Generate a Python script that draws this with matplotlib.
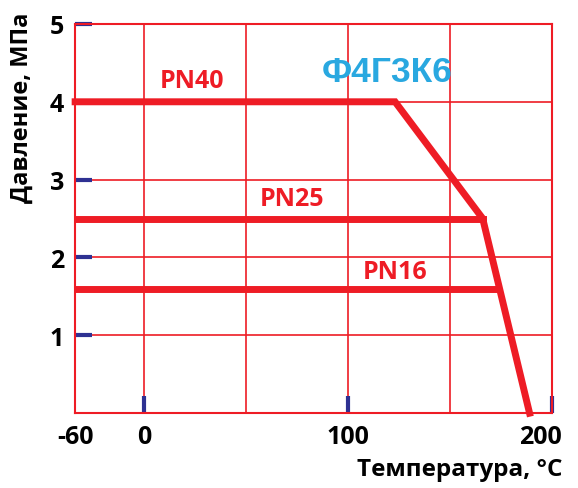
import numpy as np
import matplotlib
matplotlib.use("Agg")
import matplotlib.pyplot as plt
import matplotlib.transforms as mtransforms

# Data
pn40_t = [-34, 123, 166, 189]
pn40_p = [4.0, 4.0, 2.5, 0.0]
pn25_t = [-34, 166]
pn25_p = [2.5, 2.5]
pn16_t = [-34, 173]
pn16_p = [1.6, 1.6]

series_labels = ["PN40", "PN25", "PN16"]
label_pos = [(23.5, 4.27), (72.5, 2.76), (123, 1.82)]

x_ticks = [0, 100, 200]
x_tick_labels = ["0", "100", "200"]
y_ticks = [1, 2, 3, 4, 5]

red = "#ee1c25"
blue_tick = "#2e3192"
title_blue = "#29a8e0"

plt.rcParams["font.family"] = ["Open Sans", "DejaVu Sans"]
plt.rcParams["font.weight"] = "bold"

fig = plt.figure(figsize=(5.78, 4.89), dpi=100)
ax = fig.add_axes([0.130, 0.153, 0.825, 0.796])

ax.set_xlim(-34, 200)
ax.set_ylim(0, 5)

# Grid
ax.set_xticks(x_ticks, x_tick_labels)
ax.set_xticks([-34, 50, 150], ["-60", "", ""], minor=True)
ax.set_yticks(y_ticks, [str(v) for v in y_ticks])
ax.grid(True, which="both", color=red, linewidth=1.2)
ax.set_axisbelow(True)

for s in ax.spines.values():
    s.set_color(red)
    s.set_linewidth(1.5)

ax.tick_params(axis="both", which="major", direction="in", color=blue_tick,
               length=12, width=3, labelsize=18, pad=8)
ax.tick_params(axis="x", which="minor", length=0, labelsize=18, pad=8)
for t in ax.get_xticklabels(which="both") + ax.get_yticklabels():
    t.set_fontweight("bold")

# shift the 200 label a bit to the left like in the original
off = mtransforms.ScaledTranslation(-12 / 100, 0, fig.dpi_scale_trans)
lab = ax.get_xticklabels()[-1]
lab.set_transform(lab.get_transform() + off)

# Curves
ax.plot(pn40_t, pn40_p, color=red, linewidth=5, solid_joinstyle="miter", zorder=3, clip_on=False)
ax.plot(pn25_t, pn25_p, color=red, linewidth=5, zorder=3)
ax.plot(pn16_t, pn16_p, color=red, linewidth=5, zorder=3)

for name, (tx, ty) in zip(series_labels, label_pos):
    ax.text(tx, ty, name, color=red, fontsize=18, fontweight="bold",
            ha="center", va="center")

ax.text(119, 4.39, "Ф4Г3К6", color=title_blue, fontsize=25.5, fontweight="bold",
        ha="center", va="center", family=["Liberation Sans", "DejaVu Sans"])

fig.text(0.974, 0.039, "Температура, °С", ha="right", va="center", fontsize=17.5, fontweight="bold")
fig.text(0.038, 0.78, "Давление, МПа", ha="center", va="center", rotation=90,
         fontsize=17, fontweight="bold")

fig.savefig("out.png", dpi=100)
